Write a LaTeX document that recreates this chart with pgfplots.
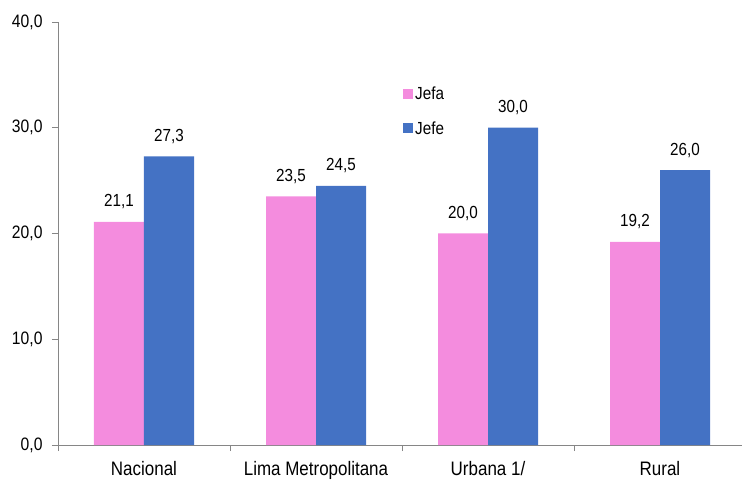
\documentclass[border=0pt]{standalone}
\usepackage{fontspec}
\setmainfont{Liberation Sans}[FakeStretch=0.87]
\usepackage{pgfplots}
\pgfplotsset{compat=1.18}
\definecolor{jefa}{RGB}{244,140,222}
\definecolor{jefe}{RGB}{68,114,196}
\definecolor{axgray}{RGB}{134,134,134}

\begin{document}
\begin{tikzpicture}
\begin{axis}[
    scale only axis,
    width=688bp, height=423bp,
    xmin=-0.5, xmax=3.5, ymin=0, ymax=40,
    ybar=0pt, bar width=50bp,
    axis x line*=bottom, axis y line*=left,
    axis line style={axgray, line width=0.8pt, -},
    tick style={axgray, line width=0.8pt},
    tick align=outside, major tick length=6bp,
    ytick={0,10,20,30,40},
    xtick={-0.5,0.5,1.5,2.5},
    xticklabels={},
    extra x ticks={0,1,2,3},
    extra x tick labels={Nacional,Lima Metropolitana,Urbana 1/,Rural},
    extra x tick style={major tick length=0pt, grid=none},
    xticklabel style={font=\fontsize{19.5bp}{22bp}\selectfont, anchor=base, yshift=-30.5bp},
    yticklabel style={font=\fontsize{18bp}{20bp}\selectfont, xshift=-6bp},
    /pgf/number format/.cd, fixed, fixed zerofill, precision=1, use comma, assume math mode=true,
    /pgfplots/.cd,
    nodes near coords,
    every node near coord/.append style={font=\fontsize{17.5bp}{20bp}\selectfont, anchor=base, yshift=15bp, text=black},
    legend style={at={(0.5015,0.851)}, anchor=north west, draw=none, fill=none,
        font=\fontsize{17.5bp}{20bp}\selectfont, row sep=16bp, inner sep=0pt},
    legend image code/.code={\fill[#1] (0bp,-5bp) rectangle (10bp,5bp);},
]
\addplot[fill=jefa, draw=none] coordinates {(0,21.1) (1,23.5) (2,20.0) (3,19.2)};
\addplot[fill=jefe, draw=none] coordinates {(0,27.3) (1,24.5) (2,30.0) (3,26.0)};
\legend{Jefa,Jefe}
\end{axis}
\pgfresetboundingbox
\path[use as bounding box] (-58bp,-36bp) rectangle (684bp,445bp);
\end{tikzpicture}
\end{document}
